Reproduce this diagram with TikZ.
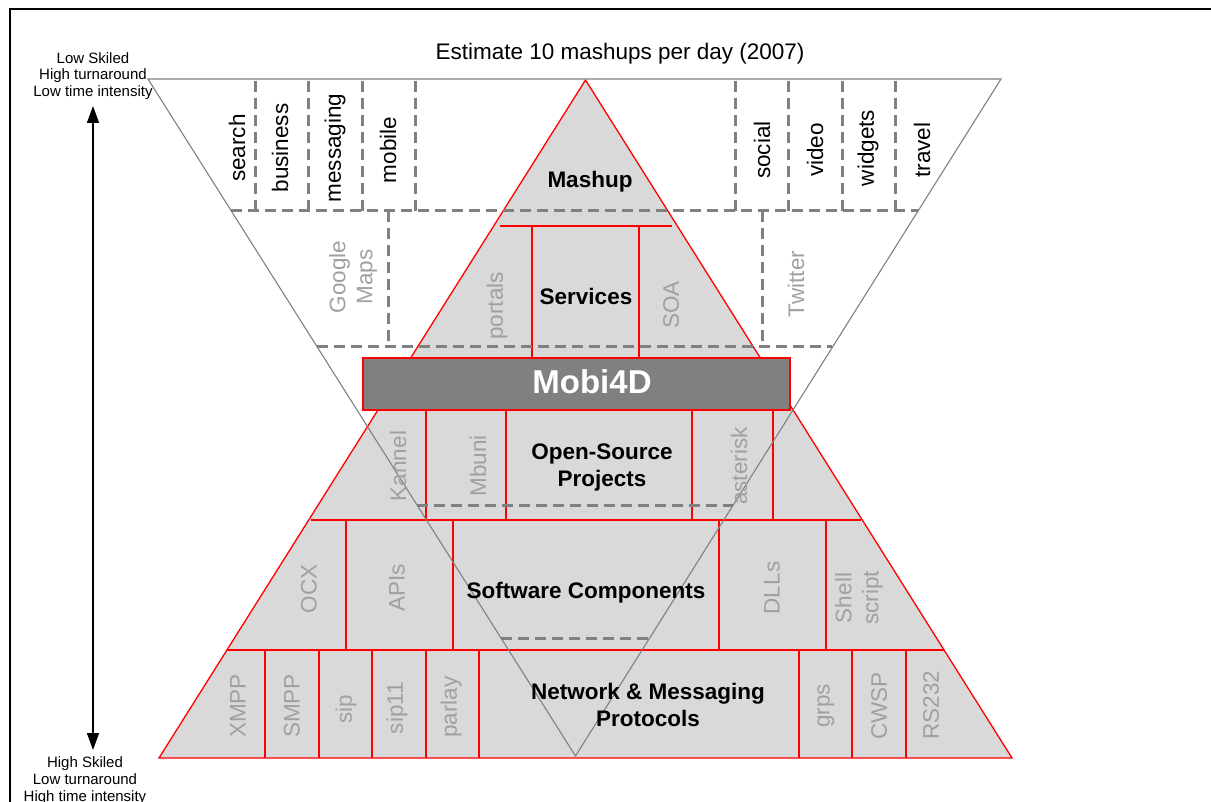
\documentclass[tikz,border=0pt]{standalone}
\usepackage{fontspec}
\setmainfont{Liberation Sans}
\usetikzlibrary{arrows.meta}
\definecolor{pfill}{HTML}{D9D9D9}
\definecolor{dgray}{HTML}{808080}
\definecolor{lgray}{HTML}{A0A0A0}
\definecolor{pred}{HTML}{FF0000}
\begin{document}
\begin{tikzpicture}[x=1pt,y=-1pt,
  pyr/.style={fill=pfill,draw=pred,line width=1.3pt,line join=miter},
  redln/.style={draw=pred,line width=1.2pt},
  dashln/.style={draw=dgray,line width=3pt,dash pattern=on 11pt off 6pt},
  invln/.style={draw=dgray,line width=1.1pt},
  vlab/.style={rotate=90,inner sep=0pt,font=\fontsize{22.5}{27}\selectfont,align=center},
  glab/.style={vlab,text=lgray},
  blab/.style={inner sep=0pt,font=\fontsize{22.5}{27}\selectfont\bfseries,align=center},
  side/.style={inner sep=0pt,align=center}]
\useasboundingbox (0,0) rectangle (1211,802);
% frame
\draw[line width=2pt] (10,803) -- (10,9) -- (1212,9);
% pyramid
\draw[pyr] (585.5,80) -- (159,758) -- (1012,758) -- cycle;
% services band
\draw[redln] (500,226) -- (672,226);
\draw[redln] (532,226) -- (532,357);
\draw[redln] (639,226) -- (639,357);
% open source band
\foreach \xx in {426,506,692,773} \draw[redln] (\xx,409) -- (\xx,520);
\draw[redln] (311,520) -- (861,520);
% software band
\foreach \xx in {346,453,719,826} \draw[redln] (\xx,520) -- (\xx,650);
\draw[redln] (227,650) -- (944,650);
% network band
\foreach \xx in {265,319,372,426,479,799,852,906} \draw[redln] (\xx,650) -- (\xx,758);
% Mobi4D bar
\node[draw=pred,fill=dgray,line width=1.6pt,minimum width=427pt,minimum height=52pt,inner sep=0pt,anchor=north west] (bar) at (362,357) {};
\node[anchor=base,inner sep=0pt,text=white,font=\fontsize{33}{38}\selectfont\bfseries] (mobi) at (592,394) {Mobi4D};
% dashed grid
\foreach \xx in {255,308,362,415,735,788,842,895} \draw[dashln] (\xx,81) -- (\xx,211);
\draw[dashln] (231.4,211) -- (918,211);
\draw[dashln] (388,211) -- (388,347);
\draw[dashln] (762,211) -- (762,347);
\draw[dashln] (317,347) -- (832,347);
\draw[dashln] (417,505) -- (733,505);
\draw[dashln] (501,638) -- (649,638);
% inverted triangle
\draw[invln] (148,79) -- (1001,79) -- (575.5,756) -- cycle;
% title
\node[anchor=base,inner sep=0pt,font=\fontsize{22.5}{27}\selectfont] (title) at (620,59.3) {Estimate 10 mashups per day (2007)};
% side labels and arrow
\node[side,font=\fontsize{15}{16.5}\selectfont] (toplbl) at (93,75.8) {Low Skiled\\High turnaround\\Low time intensity};
\node[side,font=\fontsize{15}{17}\selectfont] (botlbl) at (85,780.3) {High Skiled\\Low turnaround\\High time intensity};
\coordinate (atop) at (93,106);
\coordinate (abot) at (93,750);
\draw[line width=1.5pt,{Triangle[length=17pt,width=12pt]}-{Triangle[length=17pt,width=12pt]}] (atop) -- (abot);
% top row labels
\node[vlab] (search) at (237,148) {search};
\node[vlab] (business) at (280,148) {business};
\node[vlab] (messaging) at (335,148) {messaging};
\node[vlab] (mobile) at (388,150) {mobile};
\node[vlab] (social) at (762,150) {social};
\node[vlab] (video) at (815,150) {video};
\node[vlab] (widgets) at (868,148) {widgets};
\node[vlab] (travel) at (922,150) {travel};
% second row
\node[glab] (gmaps) at (353,277) {Google\\Maps};
\node[glab] (twitter) at (796,284) {Twitter};
\node[glab] (portals) at (497,306) {portals};
\node[glab] (soa) at (671,305) {SOA};
% open source row
\node[glab] (kannel) at (398,466) {Kannel};
\node[glab] (mbuni) at (478,466) {Mbuni};
\node[glab] (asterisk) at (739,466) {asterisk};
% software row
\node[glab] (ocx) at (309,589) {OCX};
\node[glab] (apis) at (397,588) {APIs};
\node[glab] (dlls) at (772,588) {DLLs};
\node[glab] (shell) at (859,598) {Shell\\script};
% network row
\node[glab] (xmpp) at (238,706) {XMPP};
\node[glab] (smpp) at (292,706) {SMPP};
\node[glab] (sip) at (346,709) {sip};
\node[glab] (sipb) at (397,708) {sip11};
\node[glab] (parlay) at (451,707) {parlay};
\node[glab] (grps) at (826,706) {grps};
\node[glab] (cwsp) at (879,706) {CWSP};
\node[glab] (rs) at (931,705) {RS232};
% bold labels
\node[blab,anchor=base] (mashup) at (590,188) {Mashup};
\node[blab,anchor=base] (services) at (586,305) {Services};
\node[blab] (osp) at (602,467.8) {Open-Source\\Projects};
\node[blab,anchor=base] (swc) at (586,598) {Software Components};
\node[blab] (nmp) at (648,705.4) {Network \& Messaging\\Protocols};
\end{tikzpicture}
\end{document}
